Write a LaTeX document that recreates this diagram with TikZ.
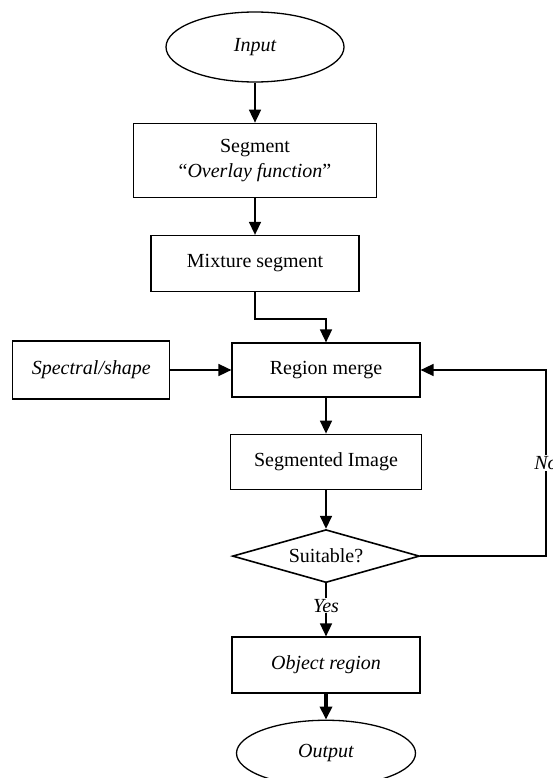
\documentclass[tikz,border=0pt]{standalone}
\usepackage{fontspec}
\setmainfont{Liberation Serif}
\usepackage{tikz}
\usetikzlibrary{positioning,shapes.geometric,arrows.meta}
\newcommand{\fsz}{\fontsize{20}{25}\selectfont}
\tikzset{
    term/.style={
    ellipse,draw=black,line width=1.3pt,inner sep=0pt,font=\fsz\itshape
    },
    stage/.style={
    rectangle,draw=black,line width=1.2pt,inner sep=2pt,align=center,font=\fsz
    },
    istage/.style={
    stage,font=\fsz\itshape
    },
    cond/.style={
    diamond,draw=black,line width=1.6pt,inner sep=0pt,aspect=3.5,minimum width=187pt,minimum height=53pt,font=\fsz
    },
  line/.style={draw, line width=1.6pt, -{Triangle[length=13pt,width=12pt]}},
  lbl/.style={fill=white,font=\fsz\itshape,inner sep=1pt}
}

\begin{document}
\begin{tikzpicture}
    \useasboundingbox (0,0) rectangle (552pt,-778pt);

    \node[term,minimum width=178pt,minimum height=70pt] (in) at (255pt,-47pt) {Input};
    \node[stage,minimum width=243pt,minimum height=74pt,below=40pt of in] (seg) {Segment\\``\textit{Overlay function}''};
    \node[stage,minimum width=208pt,minimum height=56pt,below=37pt of seg] (mix) {Mixture segment};

    \node[stage,minimum width=188pt,minimum height=54pt] (reg) at (326pt,-370pt) {Region merge};
    \node[istage,minimum width=157pt,minimum height=58pt,left=61pt of reg] (spec) {Spectral/shape};
    \node[stage,minimum width=191pt,minimum height=55pt,below=36pt of reg] (simg) {Segmented Image};
    \node[cond,below=39pt of simg] (suit) {Suitable?};
    \node[istage,minimum width=188pt,minimum height=56pt,below=53pt of suit] (obj) {Object region};
    \node[term,minimum width=179pt,minimum height=66pt,below=26pt of obj] (out) {Output};

    \coordinate (loop) at (546pt,0pt);

    \begin{scope} [every path/.style=line]
      \path (in) -- (seg);
      \path (seg) -- (mix);
      \path (mix.south) -- ++(0,-27pt) -| (reg.north);
      \path (spec) -- (reg);
      \path (reg) -- (simg);
      \path (simg) -- (suit);
      \path (suit) -- node[lbl,pos=0.42] {Yes} (obj);
      \path (suit.east) -| node[lbl,pos=0.75] {No} (reg.east -| loop) -- (reg.east);
      \path[line width=3.5pt] (obj) -- (out);
    \end{scope}

\end{tikzpicture}
\end{document}
